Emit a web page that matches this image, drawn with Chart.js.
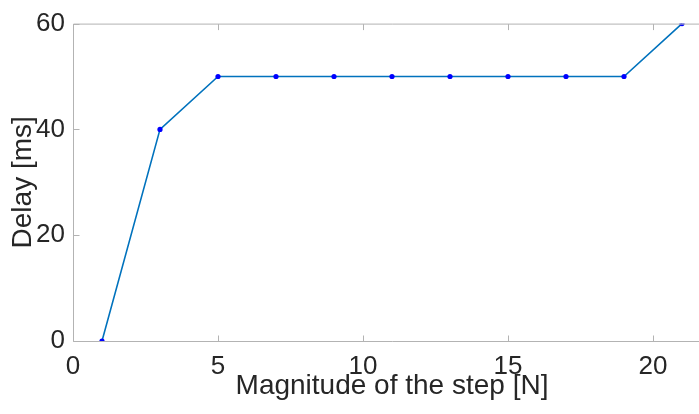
<!DOCTYPE html>
<html>
<head>
<meta charset="utf-8">
<script src="https://cdn.jsdelivr.net/npm/chart.js@4"></script>
<style>
  html, body { margin: 0; padding: 0; background: #fff; overflow: hidden; }
  #wrap { width: 699px; height: 414px; overflow: hidden; }
  #delayChart { display: block; }
</style>
</head>
<body>
<div id="wrap"><canvas id="delayChart" width="720" height="414"></canvas></div>
<script>
  const stepMagnitude = [1, 3, 5, 7, 9, 11, 13, 15, 17, 19, 21];
  const delayMs = [0, 40, 50, 50, 50, 50, 50, 50, 50, 50, 60];
  const xTicks = [0, 5, 10, 15, 20];
  const yTicks = [0, 20, 40, 60];

  const axisGray = '#b3b3b3';
  const textColor = '#262626';

  // axes lines with inward ticks, like the matlab box (right side falls off the page)
  const boxPlugin = {
    id: 'box',
    afterDraw(chart) {
      const { ctx, chartArea: a, scales } = chart;
      const l = a.left + 0.5, t = a.top + 0.5, b = a.bottom + 0.5;
      ctx.save();
      ctx.strokeStyle = axisGray;
      ctx.lineWidth = 1;
      ctx.beginPath();
      ctx.moveTo(a.right + 1, t); ctx.lineTo(l, t); ctx.lineTo(l, b); ctx.lineTo(a.right + 1, b);
      xTicks.forEach(v => {
        const px = Math.round(scales.x.getPixelForValue(v)) + 0.5;
        ctx.moveTo(px, b); ctx.lineTo(px, b - 6);
        ctx.moveTo(px, t); ctx.lineTo(px, t + 6);
      });
      yTicks.forEach(v => {
        const py = Math.round(scales.y.getPixelForValue(v)) + 0.5;
        ctx.moveTo(l, py); ctx.lineTo(l + 6, py);
      });
      ctx.stroke();
      ctx.restore();
    }
  };

  const ctx = document.getElementById('delayChart').getContext('2d');
  new Chart(ctx, {
    type: 'scatter',
    data: {
      datasets: [{
        data: stepMagnitude.map((x, i) => ({ x: x, y: delayMs[i] })),
        showLine: true,
        borderColor: '#0072bd',
        borderWidth: 1.6,
        pointRadius: 2.6,
        pointBackgroundColor: '#0000ff',
        pointBorderColor: '#0000ff',
        pointBorderWidth: 0
      }]
    },
    options: {
      responsive: false,
      animation: false,
      events: [],
      layout: { padding: { top: 16.4, right: 9, left: 0, bottom: 0 } },
      plugins: {
        legend: { display: false },
        tooltip: { enabled: false }
      },
      scales: {
        x: {
          type: 'linear',
          min: 0,
          max: 22,
          afterBuildTicks: s => { s.ticks = xTicks.map(v => ({ value: v })); },
          afterFit: s => { s.height = 73; },
          grid: { display: false, drawTicks: false },
          border: { display: false },
          ticks: {
            padding: 10,
            maxRotation: 0,
            color: textColor,
            font: { family: 'Liberation Sans', size: 26 }
          },
          title: {
            display: true,
            text: 'Magnitude of the step [N]',
            color: textColor,
            font: { family: 'Liberation Sans', size: 28 },
            padding: { top: 0, bottom: 11 }
          }
        },
        y: {
          min: 0,
          max: 60,
          afterBuildTicks: s => { s.ticks = yTicks.map(v => ({ value: v })); },
          afterFit: s => { s.width = 73; },
          grid: { display: false, drawTicks: false },
          border: { display: false },
          ticks: {
            padding: 8,
            color: textColor,
            font: { family: 'Liberation Sans', size: 26 }
          },
          title: {
            display: true,
            text: 'Delay [ms]',
            color: textColor,
            font: { family: 'Liberation Sans', size: 28 },
            padding: { top: 6, bottom: 0 }
          }
        }
      }
    },
    plugins: [boxPlugin]
  });
</script>
</body>
</html>
